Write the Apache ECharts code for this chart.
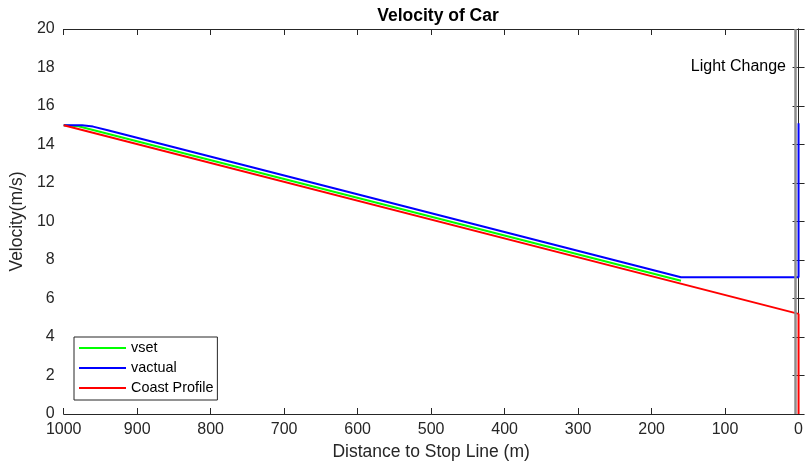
<!DOCTYPE html>
<html>
<head>
<meta charset="utf-8">
<script src="https://cdn.jsdelivr.net/npm/echarts@6/dist/echarts.min.js"></script>
<style>
html,body{margin:0;padding:0;background:#fff;}
#chart{width:806px;height:468px;}
</style>
</head>
<body>
<div id="chart"></div>
<script>
// Data (distance m, velocity m/s)
const vsetData = [[1000, 15.0], [980, 14.95], [160, 6.92]];
const vactualData = [[1000, 15.0], [975, 15.0], [960, 14.93], [940, 14.74], [160, 7.1], [0, 7.1], [0, 15.1]];
const coastData = [[1000, 15.0], [0, 5.2], [0, 0]];
const lightChangeDistance = 5;
const seriesNames = ['vset', 'vactual', 'Coast Profile'];
const seriesColors = ['#00ff00', '#0000ff', '#ff0000'];

const chart = echarts.init(document.getElementById('chart'));
const font = 'Liberation Sans, Arial, Helvetica, sans-serif';
const axisDark = '#262626';

const mkSeries = (name, data, color, extra) => Object.assign({
  name, type: 'line', data, showSymbol: false, symbol: 'none', clip: false,
  lineStyle: { color, width: 2 }, itemStyle: { color }, animation: false, z: 3
}, extra || {});

chart.setOption({
  animation: false,
  title: {
    text: 'Velocity of Car', left: 433, top: 2, textAlign: 'center',
    textStyle: { fontFamily: font, fontSize: 17.5, fontWeight: 'bold', color: '#000' }
  },
  grid: { left: 62, right: 1, top: 29, bottom: 54, show: false },
  legend: {
    orient: 'vertical', left: 74, top: 337,
    data: seriesNames.map(n => ({ name: n, icon: 'rect' })),
    itemWidth: 47, itemHeight: 2, itemGap: 6,
    padding: [4, 4, 5, 5],
    borderColor: axisDark, borderWidth: 1, backgroundColor: '#fff',
    textStyle: { fontFamily: font, fontSize: 14.4, color: '#000', lineHeight: 14 }
  },
  xAxis: [{
    type: 'value', inverse: true, min: 0, max: 1000, interval: 100,
    name: 'Distance to Stop Line (m)', nameLocation: 'middle', nameGap: 29,
    nameTextStyle: { fontFamily: font, fontSize: 17.5, color: axisDark },
    axisLine: { show: true, lineStyle: { color: axisDark, width: 1 } },
    axisTick: { show: true, inside: true, length: 6, lineStyle: { color: axisDark } },
    axisLabel: { fontFamily: font, fontSize: 16, color: axisDark, margin: 8, formatter: v => String(v) },
    splitLine: { show: false }
  }, {
    type: 'value', inverse: true, min: 0, max: 1000, interval: 100, position: 'top',
    axisLine: { show: true, onZero: false, lineStyle: { color: axisDark, width: 1 } },
    axisTick: { show: true, inside: true, length: 6, lineStyle: { color: axisDark } },
    axisLabel: { show: false }, splitLine: { show: false }
  }],
  yAxis: [{
    type: 'value', min: 0, max: 20, interval: 2,
    name: 'Velocity(m/s)', nameLocation: 'middle', nameGap: 31,
    nameTextStyle: { fontFamily: font, fontSize: 17.5, color: axisDark },
    axisLine: { show: true, lineStyle: { color: '#555', width: 1 } },
    axisTick: { show: true, inside: true, length: 6, lineStyle: { color: axisDark } },
    axisLabel: { fontFamily: font, fontSize: 16, color: axisDark, margin: 9 },
    splitLine: { show: false }
  }, {
    type: 'value', min: 0, max: 20, interval: 2, position: 'right',
    axisLine: { show: true, onZero: false, lineStyle: { color: axisDark, width: 1 } },
    axisTick: { show: true, inside: true, length: 6, lineStyle: { color: axisDark } },
    axisLabel: { show: false }, splitLine: { show: false }
  }],
  series: [
    mkSeries(seriesNames[0], vsetData, seriesColors[0]),
    mkSeries(seriesNames[1], vactualData, seriesColors[1], {
      markLine: {
        silent: true, symbol: 'none', animation: false,
        lineStyle: { color: '#8c8c8c', width: 2.5, type: 'solid' },
        label: { show: false },
        data: [{ xAxis: lightChangeDistance }]
      }
    }),
    mkSeries(seriesNames[2], coastData, seriesColors[2])
  ],
  graphic: [{
    type: 'text', right: 20, top: 59,
    style: { text: 'Light Change', font: '16px ' + font, fill: '#000' }
  }]
});
</script>
</body>
</html>
